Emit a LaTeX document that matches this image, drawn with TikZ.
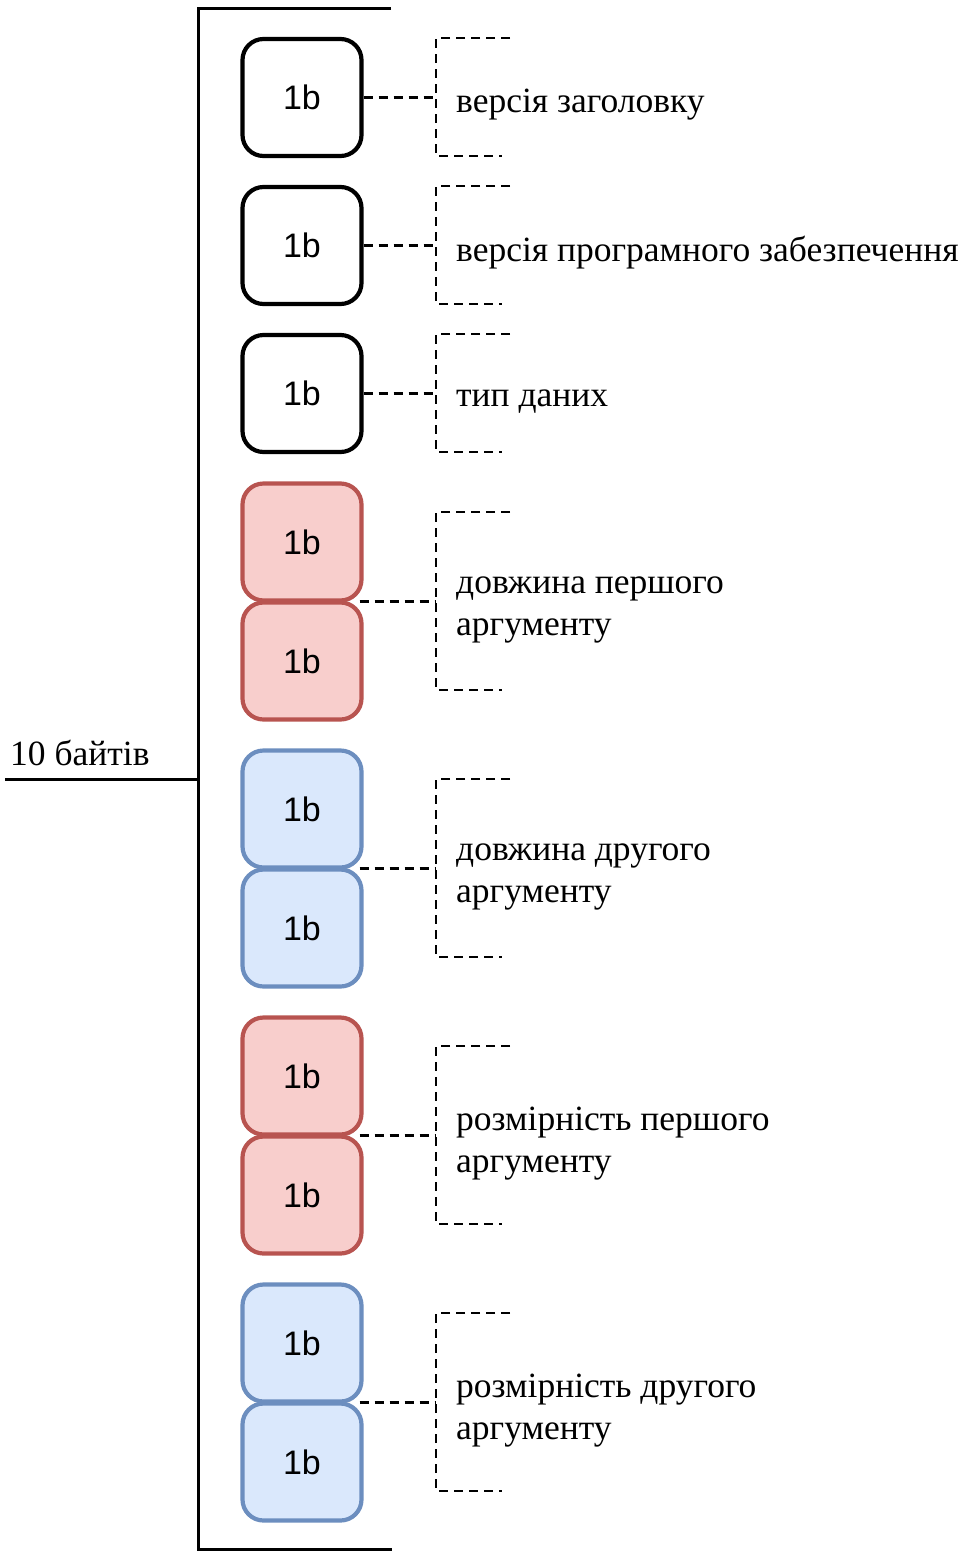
\documentclass[tikz,border=0pt]{standalone}
\usepackage{fontspec}
\setmainfont{Liberation Serif}
\newfontfamily\boxfont{Liberation Sans}
\usetikzlibrary{calc}
\definecolor{redfill}{HTML}{F8CECC}
\definecolor{redline}{HTML}{B85450}
\definecolor{bluefill}{HTML}{DAE8FC}
\definecolor{blueline}{HTML}{6C8EBF}
\begin{document}
\begin{tikzpicture}[x=1pt,y=-1pt,
  bytebox/.style={draw, line width=4.2pt, rounded corners=21pt, minimum width=119pt,
    minimum height=117pt, inner sep=0pt, font=\boxfont\fontsize{34}{40}\selectfont},
  plainbox/.style={bytebox, draw=black, fill=white},
  redbox/.style={bytebox, draw=redline, fill=redfill},
  bluebox/.style={bytebox, draw=blueline, fill=bluefill},
  lead/.style={dashed, dash pattern=on 9pt off 6pt, line width=2.8pt},
  frame/.style={line width=3pt},
  caption/.style={anchor=west, inner sep=0pt, align=left,
    font=\fontsize{35.5}{42}\selectfont}]
\useasboundingbox (0,0) rectangle (967,1551);

% outer bracket grouping all fields
\coordinate (bt) at (391,8);
\coordinate (bb) at (392,1549);
\coordinate (lt) at (198,8);
\coordinate (lb) at (198,1549);
\coordinate (lm) at (198,779);
\coordinate (le) at (5,779);
\draw[frame] (bt) -- (lt) -- (lb) -- (bb);
\draw[frame] (lm) -- (le);
\node[anchor=west, inner sep=0pt, font=\fontsize{35.5}{40}\selectfont] (total) at (10,753) {10 байтів};

% single-byte fields
\node[plainbox] (a) at (302,97.5) {1b};
\node[plainbox] (b) at (302,245.5) {1b};
\node[plainbox] (c) at (302,393.5) {1b};

% two-byte fields
\node[redbox]  (d1) at (302,542) {1b};
\node[redbox]  (d2) at (302,661) {1b};
\node[bluebox] (e1) at (302,809) {1b};
\node[bluebox] (e2) at (302,928) {1b};
\node[redbox]  (f1) at (302,1076) {1b};
\node[redbox]  (f2) at (302,1195) {1b};
\node[bluebox] (g1) at (302,1343) {1b};
\node[bluebox] (g2) at (302,1462) {1b};

% dashed braces: top y, bottom y
\foreach \nm/\ya/\yb in {A/38/156, B/186/304, C/334/452,
    D/512/690, E/779/957, F/1046/1224, G/1313/1491}{
  \coordinate (\nm top) at (510,\ya);
  \coordinate (\nm tl) at (436,\ya);
  \coordinate (\nm bl) at (436,\yb);
  \coordinate (\nm bot) at (502,\yb);
  \draw[lead] (\nm top) -- (\nm tl) -- (\nm bl) -- (\nm bot);
}

% leaders from the single fields to their braces
\draw[lead] (a.east) -- (a.east -| Atl);
\draw[lead] (b.east) -- (b.east -| Btl);
\draw[lead] (c.east) -- (c.east -| Ctl);

% leaders from the joint of each byte pair to its brace
\foreach \up/\dn/\nm in {d1/d2/D, e1/e2/E, f1/f2/F, g1/g2/G}{
  \coordinate (\nm j) at ($(\up.south east)!0.5!(\dn.north east)+(-4,0)$);
  \draw[lead] (\nm j) -- (\nm j -| \nm tl);
}

% field descriptions
\node[caption] (ta) at (456,105) {версія заголовку};
\node[caption] (tb) at (456,253) {версія програмного забезпечення};
\node[caption] (tc) at (456,402) {тип даних};
\node[caption] (td) at (456,610) {довжина першого\\аргументу};
\node[caption] (te) at (456,877) {довжина другого\\аргументу};
\node[caption] (tf) at (456,1144) {розмірність першого\\аргументу};
\node[caption] (tg) at (456,1411) {розмірність другого\\аргументу};
\end{tikzpicture}
\end{document}
